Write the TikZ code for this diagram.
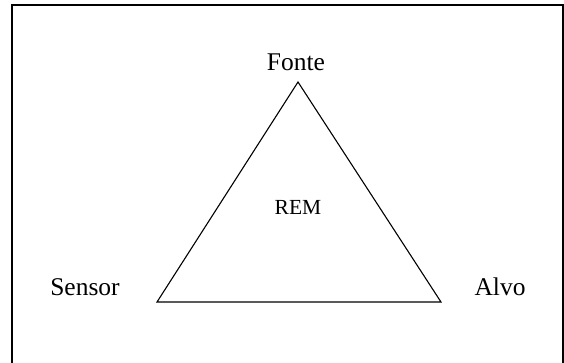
\documentclass[tikz,border=0pt]{standalone}
\usepackage{fontspec}
\setmainfont{Liberation Serif}
\usetikzlibrary{positioning}

\begin{document}
\begin{tikzpicture}[
    x=1pt, y=-1pt,
    vertlabel/.style={font=\fontsize{25.5}{30}\selectfont, inner sep=0pt},
    midlabel/.style={font=\fontsize{21.5}{26}\selectfont, inner sep=0pt},
    side/.style={line width=1.1pt, line join=miter}
]
\useasboundingbox (0,0) rectangle (564,362);
\draw[line width=1.3pt] (12,370) -- (12,5) -- (563,5) -- (563,370);

\coordinate (top) at (298,82);
\coordinate (left) at (157,302);
\coordinate (right) at (441,302);

\node[vertlabel, anchor=base] (fonte) at (296,70) {Fonte};
\node[vertlabel, anchor=base] (sensor) at (85,295) {Sensor};
\node[vertlabel, anchor=base] (alvo) at (500,295) {Alvo};
\node[midlabel, anchor=base] (rem) at (298,214) {REM};

\draw[side] (top) -- (left) -- (right) -- cycle;
\end{tikzpicture}
\end{document}
